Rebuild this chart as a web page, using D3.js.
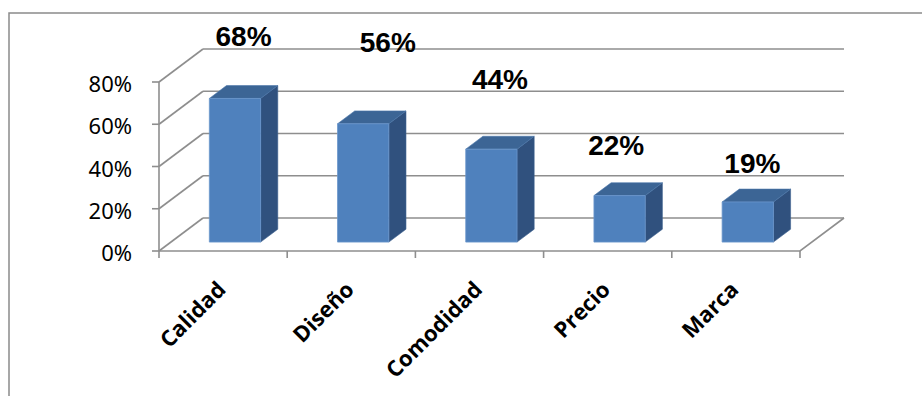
<!DOCTYPE html>
<html>
<head>
<meta charset="utf-8">
<script src="https://cdn.jsdelivr.net/npm/d3@7"></script>
<style>
  html, body { margin: 0; padding: 0; background: #fff; }
  svg { display: block; }
</style>
</head>
<body>
<svg id="chart" width="922" height="396"></svg>
<script>
// ---- data ----
const categories = ["Calidad", "Diseño", "Comodidad", "Precio", "Marca"];
const values = [0.68, 0.56, 0.44, 0.22, 0.19];
const valueLabels = ["68%", "56%", "44%", "22%", "19%"];
const yTicks = [0, 0.2, 0.4, 0.6, 0.8];
const yTickLabels = ["0%", "20%", "40%", "60%", "80%"];

// ---- layout ----
const W = 922, H = 396;
const depthX = 44, depthY = -33;          // wall depth offset
const barZ0 = 0.27, barZ1 = 0.66;         // bar front/back depth fraction
const barFrac = 0.4;                       // bar width / band width
// manual placement of the data labels (as dragged in the original chart)
const labelNudge = [[0, -24], [16, -43], [0, -31], [-12, -11.5], [-4, 0]];

const svg = d3.select("#chart");

const x = d3.scaleBand().domain(categories).range([159, 800]).paddingInner(0).paddingOuter(0);
const y = d3.scaleLinear().domain([0, 0.8]).range([251, 82]);

function proj(px, v, z) { return [px + depthX * z, y(v) + depthY * z]; }

const gridColor = "#8e8e8e";

// outer border
svg.append("rect").attr("x", 9).attr("y", 13).attr("width", W).attr("height", H)
  .attr("fill", "none").attr("stroke", "#8a8a8a").attr("stroke-width", 1.5);

const g = svg.append("g");
const x0 = x.range()[0], x1 = x.range()[1];

// back wall gridlines
g.selectAll(".bgrid").data(yTicks).join("line")
  .attr("x1", d => proj(x0, d, 1)[0]).attr("y1", d => proj(x0, d, 1)[1])
  .attr("x2", d => proj(x1, d, 1)[0]).attr("y2", d => proj(x1, d, 1)[1])
  .attr("stroke", gridColor).attr("stroke-width", 1.6);

// side wall gridlines
g.selectAll(".sgrid").data(yTicks).join("line")
  .attr("x1", d => proj(x0, d, 0)[0]).attr("y1", d => proj(x0, d, 0)[1])
  .attr("x2", d => proj(x0, d, 1)[0]).attr("y2", d => proj(x0, d, 1)[1])
  .attr("stroke", gridColor).attr("stroke-width", 1.6);

// floor front & right edges
g.append("polyline")
  .attr("points", [proj(x0, 0, 0), proj(x1, 0, 0), proj(x1, 0, 1)].map(p => p.join(",")).join(" "))
  .attr("fill", "none").attr("stroke", gridColor).attr("stroke-width", 1.6);

// y axis line
g.append("line").attr("x1", x0).attr("x2", x0).attr("y1", y(0)).attr("y2", y(0.8))
  .attr("stroke", gridColor).attr("stroke-width", 1.6);

// y ticks
g.selectAll(".ytick").data(yTicks).join("line")
  .attr("x1", x0 - 7).attr("x2", x0).attr("y1", d => y(d)).attr("y2", d => y(d))
  .attr("stroke", gridColor).attr("stroke-width", 1.6);

// y tick labels
g.selectAll(".ylab").data(yTicks).join("text")
  .attr("x", 132).attr("y", d => y(d) + 10)
  .attr("text-anchor", "end")
  .attr("font-family", "'Noto Sans', 'Open Sans', sans-serif")
  .attr("font-size", 22).attr("fill", "#000")
  .text((d, i) => yTickLabels[i]);

// x ticks at band boundaries
const bounds = categories.map(c => x(c)).concat([x1]);
g.selectAll(".xtick").data(bounds).join("line")
  .attr("x1", d => d).attr("x2", d => d).attr("y1", y(0)).attr("y2", y(0) + 7)
  .attr("stroke", gridColor).attr("stroke-width", 1.6);

// x labels
g.selectAll(".xlab").data(categories).join("text")
  .attr("transform", d => `translate(${x(d) + x.bandwidth() / 2 + 4},${y(0) + 40}) rotate(-45)`)
  .attr("text-anchor", "end")
  .attr("font-family", "'Open Sans', 'Noto Sans', sans-serif")
  .attr("font-weight", "bold")
  .attr("font-size", 22).attr("fill", "#000")
  .text(d => d);

// bars
const bw = x.bandwidth() * barFrac;
const bars = g.selectAll(".bar").data(categories.map((c, i) => ({ c, v: values[i], i }))).join("g");

bars.each(function (d) {
  const gb = d3.select(this);
  const left = x(d.c) + (x.bandwidth() - bw) / 2;
  const right = left + bw;
  const fBL = proj(left, 0, barZ0), fBR = proj(right, 0, barZ0);
  const fTL = proj(left, d.v, barZ0), fTR = proj(right, d.v, barZ0);
  const bBR = proj(right, 0, barZ1), bTL = proj(left, d.v, barZ1), bTR = proj(right, d.v, barZ1);
  const pts = a => a.map(p => p.join(",")).join(" ");
  // side
  gb.append("polygon").attr("points", pts([fBR, fTR, bTR, bBR]))
    .attr("fill", "#30517e").attr("stroke", "#3a5f8f").attr("stroke-width", 0.6);
  // top
  gb.append("polygon").attr("points", pts([fTL, fTR, bTR, bTL]))
    .attr("fill", "#3c6595").attr("stroke", "#4a75aa").attr("stroke-width", 0.6);
  // front
  gb.append("polygon").attr("points", pts([fBL, fBR, fTR, fTL]))
    .attr("fill", "#4f81bd").attr("stroke", "#6a95cb").attr("stroke-width", 0.8);
});

// data labels
g.selectAll(".vlab").data(values).join("text")
  .attr("x", (d, i) => x(categories[i]) + x.bandwidth() / 2 + depthX * (barZ0 + barZ1) / 2 + labelNudge[i][0])
  .attr("y", (d, i) => y(d) + depthY * barZ1 - 16 + labelNudge[i][1])
  .attr("text-anchor", "middle")
  .attr("font-family", "'Liberation Sans', Arial, sans-serif")
  .attr("font-weight", "bold")
  .attr("font-size", 28).attr("fill", "#000")
  .text((d, i) => valueLabels[i]);
</script>
</body>
</html>
